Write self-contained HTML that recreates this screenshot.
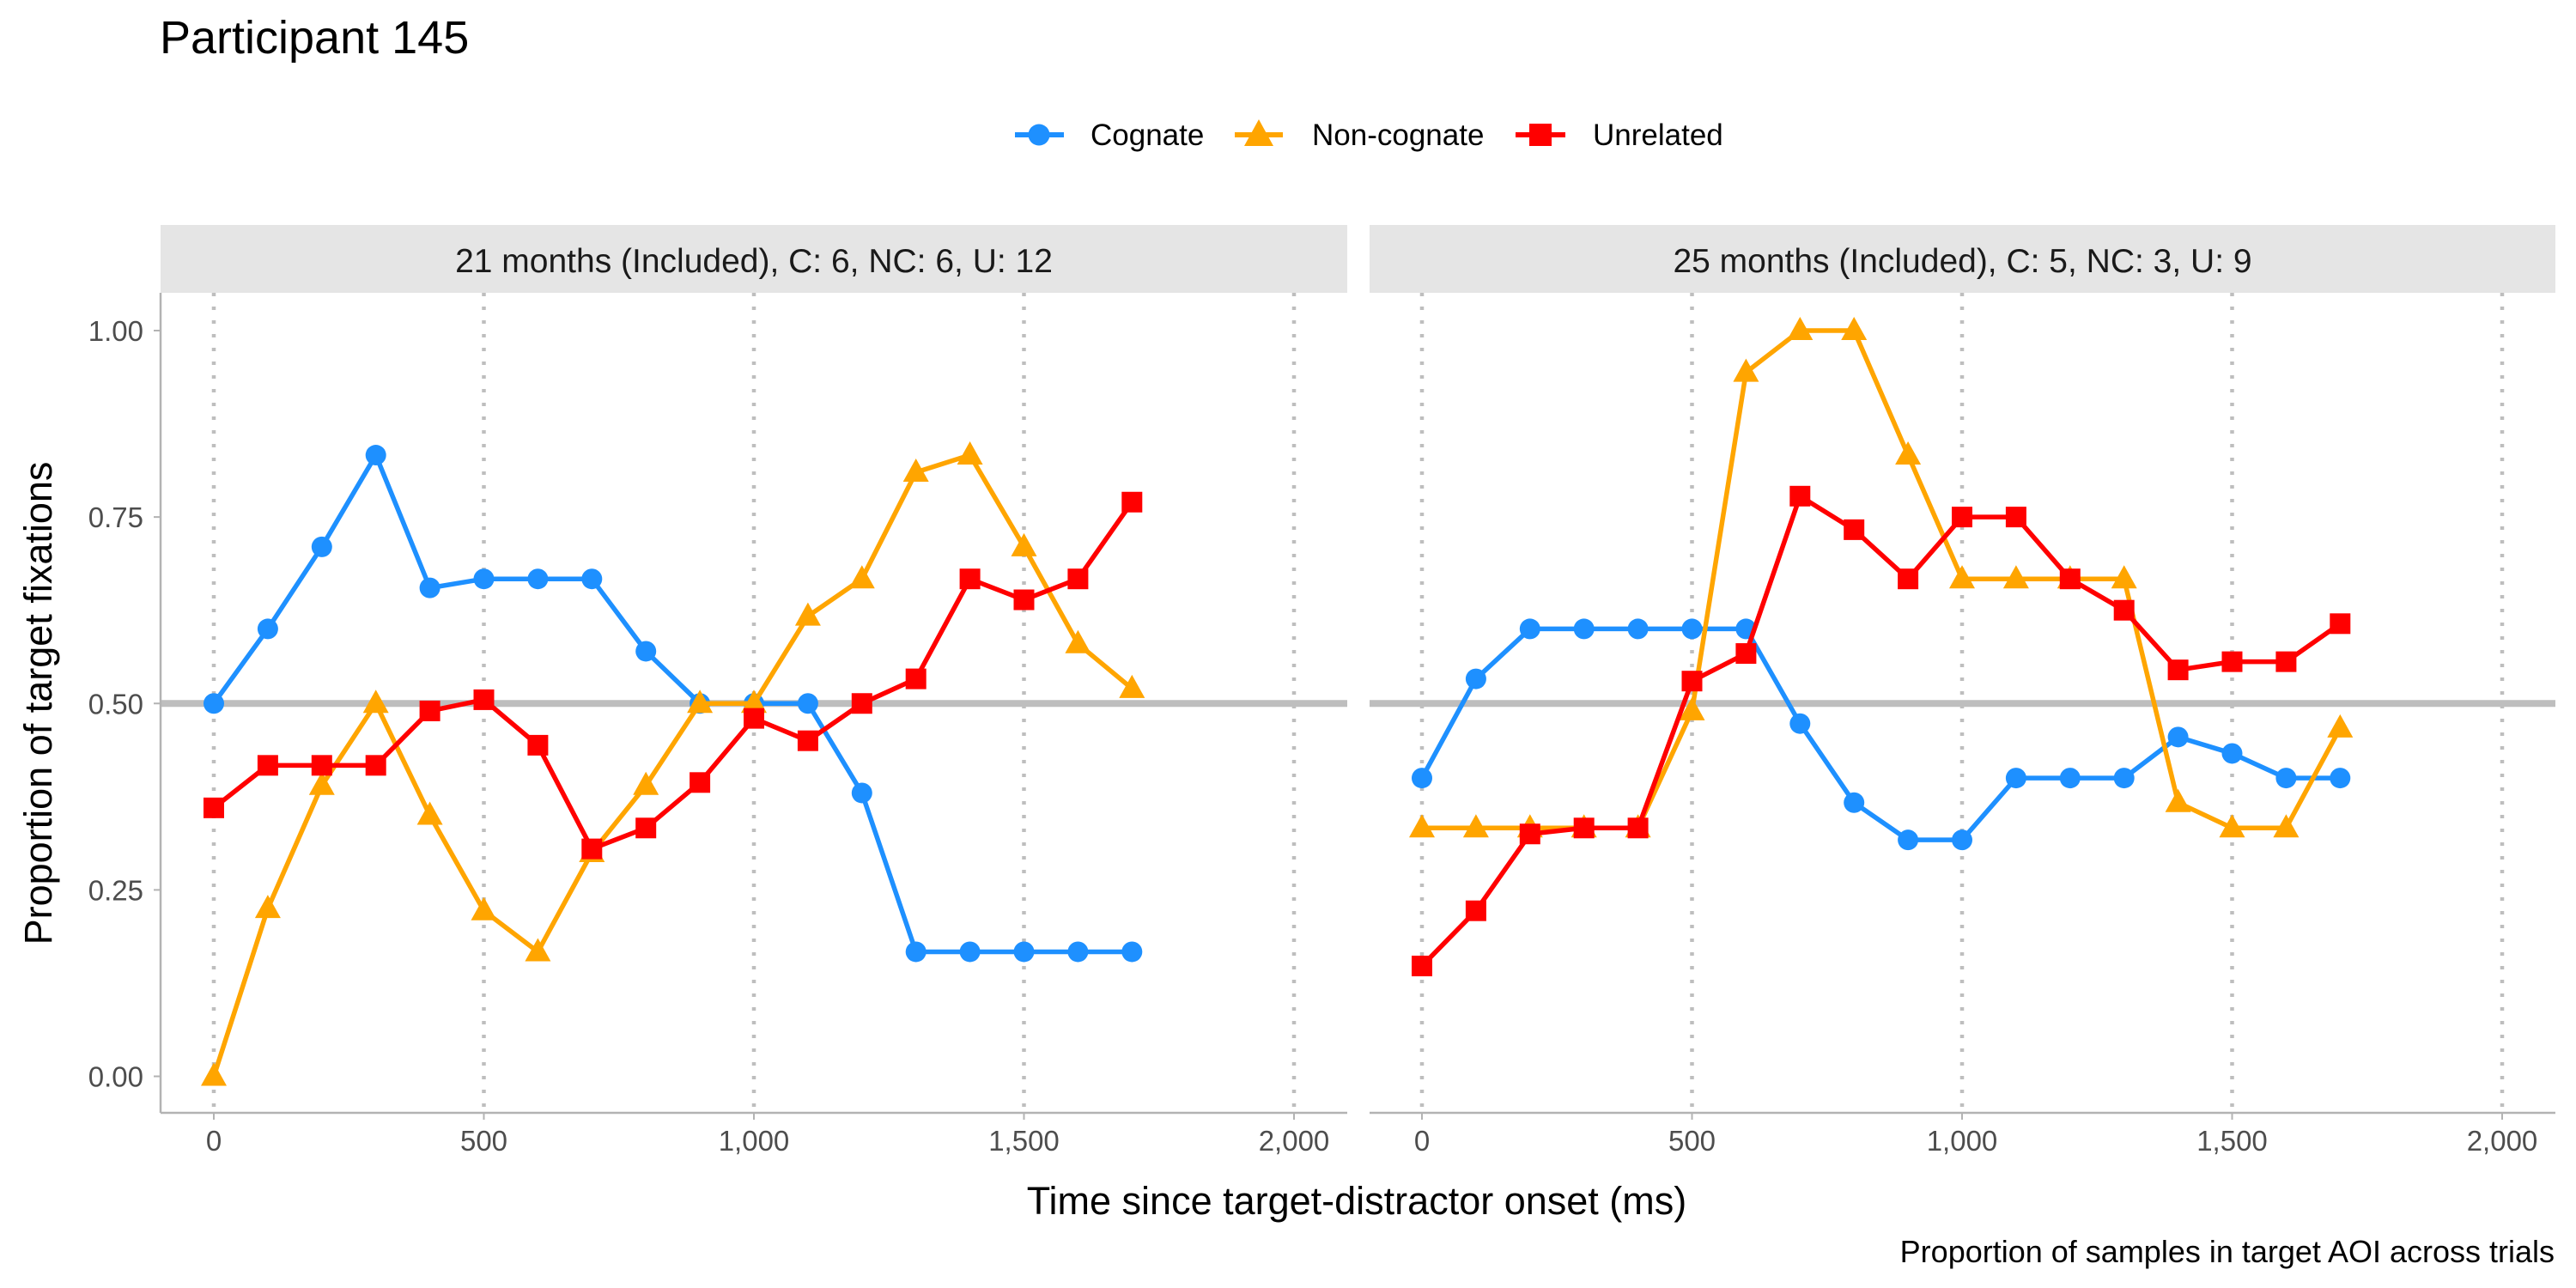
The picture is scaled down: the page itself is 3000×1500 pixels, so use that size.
<!DOCTYPE html>
<html><head><meta charset="utf-8"><style>
body{margin:0;background:#fff}
svg{display:block;font-family:"Liberation Sans",Arial,sans-serif}
</style></head><body>
<svg id="chart" width="3000" height="1500" viewBox="0 0 3000 1500" xmlns="http://www.w3.org/2000/svg">
<rect width="3000" height="1500" fill="#fff"/>
<text x="186" y="62" font-size="54" fill="#000">Participant 145</text>
<g>
 <g><line x1="1182" y1="157" x2="1239" y2="157" stroke="#1E90FF" stroke-width="6"/><circle cx="1210" cy="157" r="12.5" fill="#1E90FF"/><text x="1270" y="169" font-size="35">Cognate</text></g>
 <g><line x1="1438" y1="157" x2="1494" y2="157" stroke="#FFA500" stroke-width="6"/><polygon points="1466,139 1483,170 1449,170" fill="#FFA500"/><text x="1528" y="169" font-size="35">Non-cognate</text></g>
 <g><line x1="1765" y1="157" x2="1823" y2="157" stroke="#FF0000" stroke-width="6"/><rect x="1781" y="144" width="26" height="26" fill="#FF0000"/><text x="1855" y="169" font-size="35">Unrelated</text></g>
</g>
<g id="panels"></g>
<text x="1580" y="1414" font-size="45" text-anchor="middle">Time since target-distractor onset (ms)</text>
<text transform="translate(60,819) rotate(-90)" font-size="45" text-anchor="middle">Proportion of target fixations</text>
<text x="2975" y="1470" font-size="36" text-anchor="end">Proportion of samples in target AOI across trials</text>
</svg>
<script>
const times=[0,100,200,300,400,500,600,700,800,900,1000,1100,1200,1300,1400,1500,1600,1700];
const xTicks=[0,500,1000,1500,2000];
const xTickLabels=["0","500","1,000","1,500","2,000"];
const yTicks=[0,0.25,0.5,0.75,1];
const yTickLabels=["0.00","0.25","0.50","0.75","1.00"];
const panelTitles=["21 months (Included), C: 6, NC: 6, U: 12","25 months (Included), C: 5, NC: 3, U: 9"];
const cognate21=[.5,.6,.71,.833,.655,.667,.667,.667,.57,.5,.5,.5,.38,.167,.167,.167,.167,.167];
const noncog21=[0,.225,.39,.5,.35,.222,.167,.3,.39,.5,.5,.617,.667,.81,.833,.71,.58,.52];
const unrel21=[.36,.417,.417,.417,.49,.505,.444,.305,.333,.394,.48,.45,.5,.533,.667,.639,.667,.77];
const cognate25=[.4,.533,.6,.6,.6,.6,.6,.473,.367,.317,.317,.4,.4,.4,.455,.433,.4,.4];
const noncog25=[.333,.333,.333,.333,.333,.49,.944,1,1,.833,.667,.667,.667,.667,.367,.333,.333,.467];
const unrel25=[.148,.222,.325,.333,.333,.53,.567,.778,.733,.667,.75,.75,.667,.625,.545,.556,.556,.607];

const NS="http://www.w3.org/2000/svg";
function mk(tag,attrs,parent){const e=document.createElementNS(NS,tag);for(const k in attrs)e.setAttribute(k,attrs[k]);parent.appendChild(e);return e;}
const root=document.getElementById('panels');
const panels=[
 {left:187,right:1569,x0:249,x2000:1507,data:[cognate21,noncog21,unrel21],leftAxis:true,id:'21'},
 {left:1595,right:2976,x0:1656,x2000:2914,data:[cognate25,noncog25,unrel25],leftAxis:false,id:'25'}
];
const plotTop=341,plotBottom=1296,y0px=1253.5,y1px=385;
function ys(v){return y0px+(y1px-y0px)*v;}
const colors=["#1E90FF","#FFA500","#FF0000"];
const names=["cognate","non-cognate","unrelated"];
panels.forEach((p,pi)=>{
 const xs=t=>p.x0+(p.x2000-p.x0)*t/2000;
 const g=mk('g',{},root);
 
 
 const strip=mk('rect',{x:p.left,y:262,width:p.right-p.left,height:79,fill:'#e5e5e5'},g);
 
 
 const st=mk('text',{x:(p.left+p.right)/2,y:317,'font-size':39,'text-anchor':'middle',fill:'#1a1a1a'},g);
 st.textContent=panelTitles[pi];
 
 
 xTicks.forEach((t,i)=>{
  const gl=mk('line',{x1:xs(t),x2:xs(t),y1:plotTop,y2:plotBottom,stroke:'#bebebe','stroke-width':4.5,'stroke-dasharray':'4 12'},g);
  
  
  mk('line',{x1:xs(t),x2:xs(t),y1:plotBottom,y2:plotBottom+8,stroke:'#b3b3b3','stroke-width':2},g);
  const tl=mk('text',{x:xs(t),y:1340,'font-size':33,'text-anchor':'middle',fill:'#4d4d4d'},g);
  tl.textContent=xTickLabels[i];
  
  
 });
 const ref=mk('line',{x1:p.left,x2:p.right,y1:ys(0.5),y2:ys(0.5),stroke:'#bebebe','stroke-width':8},g);
 
 
 mk('line',{x1:p.left,x2:p.right,y1:plotBottom,y2:plotBottom,stroke:'#b3b3b3','stroke-width':2.5},g);
 if(p.leftAxis){
  mk('line',{x1:p.left,x2:p.left,y1:plotTop,y2:plotBottom,stroke:'#b3b3b3','stroke-width':2.5},g);
  yTicks.forEach((v,i)=>{
   mk('line',{x1:p.left-8,x2:p.left,y1:ys(v),y2:ys(v),stroke:'#b3b3b3','stroke-width':2},g);
   const tl=mk('text',{x:167,y:ys(v)+12,'font-size':33,'text-anchor':'end',fill:'#4d4d4d'},g);
   tl.textContent=yTickLabels[i];
   
   
  });
 }
 p.data.forEach((series,si)=>{
  const sg=mk('g',{},g);
  
  
  const pts=series.map((v,i)=>xs(times[i])+','+ys(v)).join(' ');
  const pl=mk('polyline',{points:pts,fill:'none',stroke:colors[si],'stroke-width':5.5,'stroke-linejoin':'round'},sg);
  
  
  series.forEach((v,i)=>{
   const cx=xs(times[i]),cy=ys(v);let m;
   if(si===0)m=mk('circle',{cx:cx,cy:cy,r:12,fill:colors[si]},sg);
   else if(si===1)m=mk('polygon',{points:`${cx},${cy-16} ${cx+15},${cy+11} ${cx-15},${cy+11}`,fill:colors[si]},sg);
   else m=mk('rect',{x:cx-12,y:cy-12,width:24,height:24,fill:colors[si]},sg);
   
   
  });
 });
});
</script>
</body></html>
